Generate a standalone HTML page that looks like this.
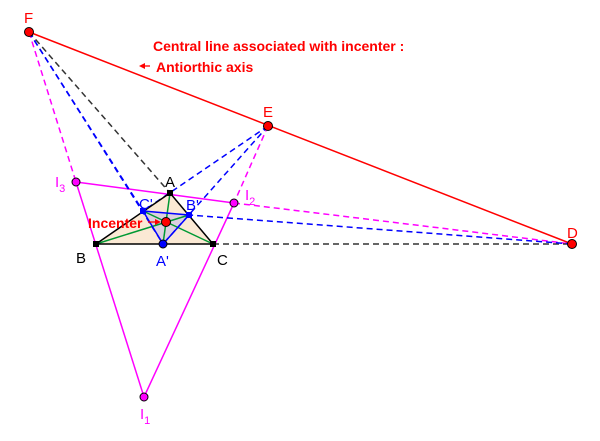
<!DOCTYPE html>
<html><head><style>body{margin:0;background:#fff}svg{display:block}</style></head><body>
<svg width="600" height="441" viewBox="0 0 600 441" xmlns="http://www.w3.org/2000/svg" font-family="Liberation Sans, sans-serif">
<polygon points="170,193 96,244 213,244" fill="#fbe9d4"/>
<polygon points="143,211 189,215 163,244" fill="#ddd0e0"/>
<g stroke-width="1.5" fill="none">
<line x1="29" y1="32" x2="572" y2="244" stroke="#f00"/>
<g stroke="#f0f" stroke-dasharray="6,4">
<line x1="29" y1="32" x2="76" y2="182"/><line x1="268" y1="126" x2="234" y2="203"/><line x1="234" y1="203" x2="572" y2="244"/>
</g>
<g stroke="#f0f"><line x1="76" y1="182" x2="234" y2="203"/><line x1="76" y1="182" x2="144" y2="397"/><line x1="144" y1="397" x2="234" y2="203"/></g>
<g stroke="#333" stroke-dasharray="6,4"><line x1="29" y1="32" x2="170" y2="193"/><line x1="213" y1="244" x2="572" y2="244"/></g>
<g stroke="#00f" stroke-dasharray="6,4">
<line x1="29" y1="32" x2="143" y2="211"/><line x1="29" y1="32" x2="163" y2="244"/>
<line x1="268" y1="126" x2="143" y2="211"/><line x1="268" y1="126" x2="163" y2="244"/>
<line x1="572" y1="244" x2="189" y2="215"/>
</g>
<g stroke="#093"><line x1="170" y1="193" x2="163" y2="244"/><line x1="96" y1="244" x2="189" y2="215"/><line x1="213" y1="244" x2="143" y2="211"/></g>
<g stroke="#00f"><polygon points="143,211 189,215 163,244"/></g>
<g stroke="#000"><polygon points="170,193 96,244 213,244"/></g>
</g>
<g stroke="#000" stroke-width="1">
<circle cx="29" cy="32" r="4.5" fill="#f00"/><circle cx="268" cy="126" r="4.5" fill="#f00"/><circle cx="572" cy="244" r="4.5" fill="#f00"/>
<circle cx="166" cy="222" r="4.5" fill="#f00"/>
<circle cx="76" cy="182" r="4" fill="#f0f"/><circle cx="234" cy="203" r="4" fill="#f0f"/><circle cx="144" cy="397" r="4" fill="#f0f"/>
<circle cx="163" cy="244" r="4" fill="#00f"/>
</g>
<g fill="#000"><rect x="167" y="190" width="6" height="6"/><rect x="93" y="241" width="6" height="6"/><rect x="210" y="241" width="6" height="6"/></g>
<g fill="#00f"><rect x="140" y="208" width="6" height="6"/><rect x="186" y="212" width="6" height="6"/></g>
<g font-size="15">
<text x="24" y="23" fill="#f00">F</text><text x="263" y="117" fill="#f00">E</text><text x="567" y="238" fill="#f00">D</text>
<text x="165" y="187" fill="#000">A</text><text x="76" y="263" fill="#000">B</text><text x="217" y="265" fill="#000">C</text>
<text x="139" y="209" fill="#00f">C'</text><text x="186" y="210" fill="#00f">B'</text><text x="156" y="266" fill="#00f">A'</text>
<text x="55" y="187" fill="#f0f">I<tspan font-size="11" dy="5">3</tspan></text>
<text x="245" y="200" fill="#f0f">I<tspan font-size="11" dy="5">2</tspan></text>
<text x="140" y="419" fill="#f0f">I<tspan font-size="11" dy="5">1</tspan></text>
</g>
<g fill="#f00" font-weight="bold" font-size="14">
<text x="88" y="228">Incenter</text>
<text x="153" y="51">Central line associated with incenter :</text>
<text x="156" y="72">Antiorthic axis</text>
</g>
<g stroke="#f00" stroke-width="1.3"><line x1="150" y1="66" x2="142" y2="66"/><line x1="148" y1="222" x2="158" y2="222"/></g>
<polygon points="139,66 145,63 145,69" fill="#f00"/><polygon points="161,222 155,219 155,225" fill="#f00"/>
</svg>
</body></html>
